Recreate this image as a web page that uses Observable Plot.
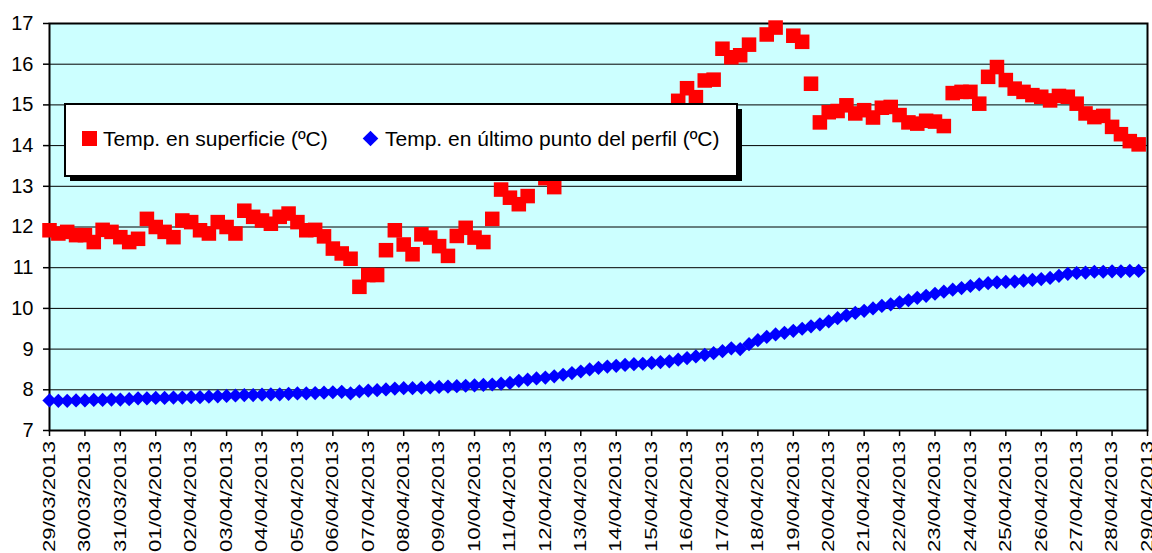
<!DOCTYPE html>
<html><head><meta charset="utf-8">
<script src="https://cdn.jsdelivr.net/npm/d3@7"></script>
<script src="https://cdn.jsdelivr.net/npm/@observablehq/plot@0.6"></script>
<style>
html,body{margin:0;padding:0;background:#fff;}
svg{display:block;}
</style></head><body><div id="chart"></div>
<script>
const seriesNames = ["Temp. en superficie (ºC)", "Temp. en último punto del perfil (ºC)"];
const dayLabels = ["29/03/2013","30/03/2013","31/03/2013","01/04/2013","02/04/2013","03/04/2013","04/04/2013","05/04/2013","06/04/2013","07/04/2013","08/04/2013","09/04/2013","10/04/2013","11/04/2013","12/04/2013","13/04/2013","14/04/2013","15/04/2013","16/04/2013","17/04/2013","18/04/2013","19/04/2013","20/04/2013","21/04/2013","22/04/2013","23/04/2013","24/04/2013","25/04/2013","26/04/2013","27/04/2013","28/04/2013","29/04/2013"];
const stepHours = 6;
const yTicks = [7,8,9,10,11,12,13,14,15,16,17];

// Temp. en superficie (ºC), one reading every 6 hours from 29/03/2013 00:00
const surface = [
  11.92,11.84,11.88,11.80,11.80,11.63,11.93,11.88,11.75,11.63,
  11.71,12.20,12.00,11.88,11.75,12.16,12.12,11.92,11.84,12.12,
  12.00,11.84,12.40,12.25,12.16,12.08,12.25,12.33,12.12,11.92,
  11.93,11.77,11.47,11.35,11.22,10.53,10.82,10.82,11.43,11.92,
  11.57,11.33,11.82,11.74,11.53,11.29,11.78,11.98,11.74,11.63,
  12.20,12.92,12.72,12.56,12.76,13.40,13.20,12.98,13.45,13.60,
  13.70,13.85,13.95,14.05,14.20,14.30,14.45,14.55,14.65,14.75,
  14.80,15.10,15.41,15.19,15.60,15.62,16.38,16.17,16.22,16.48,
  null,16.73,16.90,null,16.70,16.55,15.52,14.57,14.82,14.85,
  14.99,14.79,14.87,14.69,14.93,14.95,14.75,14.57,14.54,14.61,
  14.59,14.48,15.29,15.32,15.32,15.03,15.69,15.93,15.61,15.40,
  15.32,15.24,15.20,15.11,15.22,15.20,15.03,14.79,14.70,14.73,
  14.46,14.28,14.11,14.03
];
// Temp. en último punto del perfil (ºC)
const profile = [
  7.74,7.73,7.73,7.74,7.74,7.75,7.75,7.76,7.76,7.77,
  7.79,7.79,7.80,7.80,7.81,7.81,7.82,7.82,7.83,7.84,
  7.85,7.86,7.87,7.87,7.88,7.89,7.89,7.90,7.91,7.91,
  7.92,7.93,7.94,7.95,7.91,7.96,7.98,7.99,8.01,8.03,
  8.04,8.04,8.05,8.06,8.07,8.08,8.09,8.10,8.11,8.12,
  8.13,8.15,8.17,8.22,8.25,8.28,8.30,8.33,8.37,8.41,
  8.45,8.50,8.54,8.57,8.59,8.61,8.63,8.64,8.66,8.68,
  8.70,8.74,8.78,8.82,8.86,8.90,8.95,9.02,9.00,9.12,
  9.22,9.30,9.36,9.40,9.45,9.50,9.56,9.61,9.68,9.76,
  9.83,9.89,9.94,10.00,10.06,10.10,10.15,10.20,10.26,10.31,
  10.36,10.41,10.46,10.50,10.55,10.59,10.62,10.64,10.65,10.66,
  10.68,10.70,10.72,10.75,10.80,10.85,10.87,10.88,10.90,10.90,
  10.91,10.91,10.92,10.92
];

const parse = d3.utcParse("%d/%m/%Y");
const tickDates = dayLabels.map(parse);
const t0 = tickDates[0].getTime();
const toRows = arr => arr.map((v, i) => ({t: new Date(t0 + i * stepHours * 3600e3), v}));
const surfaceRows = toRows(surface);
const profileRows = toRows(profile);

const FONT = "'Liberation Sans', Arial, Helvetica, sans-serif";

const chart = Plot.plot({
  width: 1152, height: 553,
  marginLeft: 49, marginRight: 5, marginTop: 23, marginBottom: 123,
  style: {fontFamily: FONT, background: "white", overflow: "visible", color: "black"},
  x: {type: "utc", domain: [tickDates[0], tickDates[tickDates.length - 1]]},
  y: {domain: [7, 17]},
  marks: [
    Plot.frame({fill: "#CCFFFF", stroke: null}),
    Plot.ruleY(yTicks, {stroke: "black", strokeWidth: 1}),
    Plot.axisY({ticks: yTicks, tickSize: 6, tickPadding: 10, fontSize: 20, label: null, tickFormat: d => String(d), strokeWidth: 1.5}),
    Plot.axisX({ticks: tickDates, tickSize: 6, label: null, tickFormat: () => "", strokeWidth: 1.5}),
    Plot.frame({stroke: "black", strokeWidth: 2}),
    Plot.dot(profileRows, {x: "t", y: "v", symbol: "diamond2", r: 6.4, fill: "#0000FF"}),
    Plot.dot(surfaceRows, {x: "t", y: "v", symbol: "square", r: 8.2, fill: "#FF0000"})
  ]
});

// rotated, stretched date labels placed with the chart's own x scale
const xs = chart.scale("x");
const xl = d3.select(chart).append("g").attr("font-family", FONT).attr("font-size", 16).attr("fill", "black");
dayLabels.forEach((lab, i) => {
  const px = xs.apply(tickDates[i]);
  xl.append("text")
    .attr("transform", `translate(${px},441) rotate(-90)`)
    .attr("text-anchor", "end").attr("dy", "0.36em")
    .attr("textLength", 111).attr("lengthAdjust", "spacingAndGlyphs")
    .text(lab);
});

// legend box inside the plot
const lg = d3.select(chart).append("g").attr("font-family", FONT).attr("font-size", 21).attr("text-anchor", "start");
lg.append("rect").attr("x", 70).attr("y", 109).attr("width", 672).attr("height", 72).attr("fill", "black");
lg.append("rect").attr("x", 65).attr("y", 104).attr("width", 672).attr("height", 72)
  .attr("fill", "white").attr("stroke", "black").attr("stroke-width", 2);
lg.append("rect").attr("x", 82).attr("y", 131).attr("width", 15).attr("height", 15).attr("fill", "#FF0000");
lg.append("text").attr("x", 103).attr("y", 138.5).attr("dy", "0.36em").attr("fill", "black").text(seriesNames[0]);
lg.append("path").attr("d", "M370.5,130.7L378.3,138.5L370.5,146.3L362.7,138.5Z").attr("fill", "#0000FF");
lg.append("text").attr("x", 385).attr("y", 138.5).attr("dy", "0.36em").attr("fill", "black").text(seriesNames[1]);

document.getElementById("chart").append(chart);
</script>
</body></html>
